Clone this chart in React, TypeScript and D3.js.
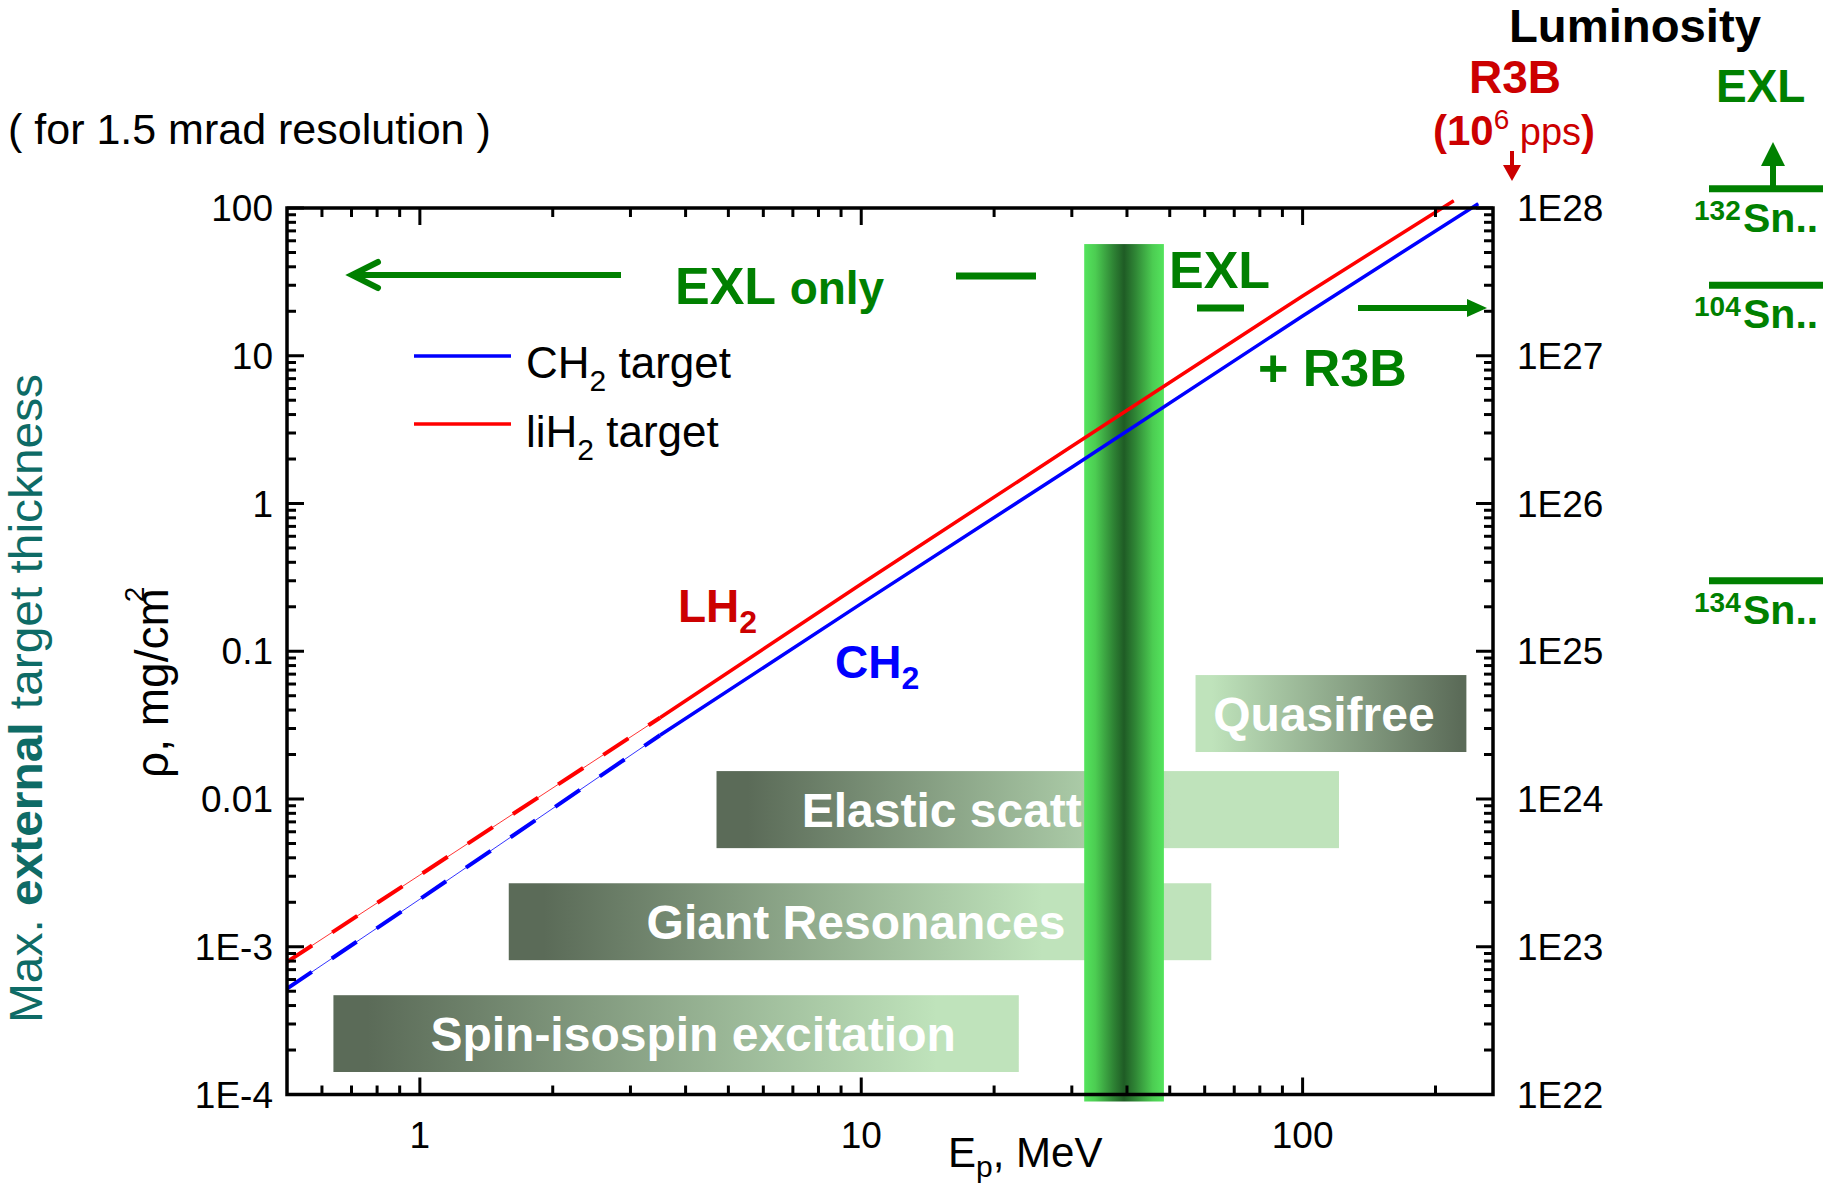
import React from 'react';
import * as d3 from 'd3';

// ---- canvas & frame ----
const W = 1823;
const H = 1184;
const frame = { left: 287, right: 1493, top: 208, bottom: 1094.5 };
const FONT = 'Liberation Sans, Arial, Helvetica, sans-serif';

// ---- axes ----
const energyDomain = [0.5, 270];
const thicknessDomain = [1e-4, 100];
const luminosityDomain = [1e22, 1e28];

const xMajorTicks = [1, 10, 100];
const xMajorLabels = ['1', '10', '100'];
const yMajorTicks = [1e-4, 1e-3, 0.01, 0.1, 1, 10, 100];
const yMajorLabels = ['1E-4', '1E-3', '0.01', '0.1', '1', '10', '100'];
const lumMajorTicks = [1e22, 1e23, 1e24, 1e25, 1e26, 1e27, 1e28];
const lumMajorLabels = ['1E22', '1E23', '1E24', '1E25', '1E26', '1E27', '1E28'];

// ---- maximum target thickness vs. proton energy ----
const ch2Energy = [0.5, 1, 3.5, 10, 30, 100, 250];
const ch2Thickness = [5.2e-4, 2.1e-3, 0.027, 0.21, 1.76, 18.6, 107];
const lh2Energy = [0.5, 1, 3.5, 10, 30, 100, 220];
const lh2Thickness = [7.9e-4, 3.06e-3, 0.0355, 0.285, 2.44, 25.4, 112];
const dashedBelowEnergy = 3.5;

// ---- reaction regions (energy range, thickness band) ----
const reactionNames = ['Spin-isospin excitation', 'Giant Resonances', 'Elastic scatt', 'Quasifree'];
const reactionEmin = [0.637, 1.59, 4.7, 57.2];
const reactionEmax = [22.75, 62.1, 120.9, 235];
const reactionTop = [4.7e-4, 2.69e-3, 0.01545, 0.069];
const reactionBottom = [1.42e-4, 8.11e-4, 4.65e-3, 0.0208];

// ---- EXL beam energy window ----
const beamWindow = [32, 48.5];
const beamWindowTop = 57;

// ---- luminosity levels for tin isotopes ----
const snMass = ['132', '104', '134'];
const snLuminosity = [1.35e28, 3e27, 3e25];

// styling
const DARK = '#5b6b58';
const LIGHT = '#bfe3bb';
const GREEN = '#008000';
const RED_TXT = '#cc0000';
const TEAL = '#0e6b66';
// gradient fade per reaction bar: [darkStop, lightStop, darkOnLeft]
const reactionFade: [number, number, boolean][] = [
  [0.05, 0.88, true],
  [0.05, 0.76, true],
  [0.05, 0.73, true],
  [0.98, 0.06, false],
];
const reactionLabelShift = [17, -4, -86, -7];

function minorTicks(lo: number, hi: number, majors: number[]) {
  const out: number[] = [];
  for (let e = Math.floor(Math.log10(lo)); e <= Math.ceil(Math.log10(hi)); e++) {
    for (let m = 1; m <= 9; m++) {
      const v = m * Math.pow(10, e);
      if (v > lo * 1.0001 && v < hi * 0.9999 && !majors.some((t) => Math.abs(t - v) / v < 1e-6)) out.push(v);
    }
  }
  return out;
}

export default function App() {
  const x = d3.scaleLog().domain(energyDomain).range([frame.left, frame.right]);
  const y = d3.scaleLog().domain(thicknessDomain).range([frame.bottom, frame.top]);
  const yLum = d3.scaleLog().domain(luminosityDomain).range([frame.bottom, frame.top]);

  const line = d3
    .line<[number, number]>()
    .x((d) => x(d[0]))
    .y((d) => y(d[1]));

  const series = [
    { e: ch2Energy, t: ch2Thickness, color: '#0000ff' },
    { e: lh2Energy, t: lh2Thickness, color: '#ff0000' },
  ].map((s) => {
    const pts = s.e.map((e, i) => [e, s.t[i]] as [number, number]);
    return {
      color: s.color,
      all: line(pts) as string,
      dashed: line(pts.filter((p) => p[0] <= dashedBelowEnergy)) as string,
      solid: line(pts.filter((p) => p[0] >= dashedBelowEnergy)) as string,
    };
  });

  const xMinor = minorTicks(energyDomain[0], energyDomain[1], xMajorTicks);
  const yMinor = minorTicks(thicknessDomain[0], thicknessDomain[1], yMajorTicks);
  const MAJ = 17;
  const MIN = 9;

  const bandX0 = x(beamWindow[0]);
  const bandX1 = x(beamWindow[1]);

  return (
    <svg
      width={W}
      height={H}
      viewBox={`0 0 ${W} ${H}`}
      style={{ position: 'absolute', left: 0, top: 0, background: '#fff' }}
      fontFamily={FONT}
    >
      <defs>
        {reactionNames.map((_, i) => {
          const [ds, ls, darkLeft] = reactionFade[i];
          return (
            <linearGradient key={i} id={`rg${i}`} x1="0" x2="1" y1="0" y2="0">
              {darkLeft ? (
                <>
                  <stop offset={ds} stopColor={DARK} />
                  <stop offset={ls} stopColor={LIGHT} />
                </>
              ) : (
                <>
                  <stop offset={ls} stopColor={LIGHT} />
                  <stop offset={ds} stopColor={DARK} />
                </>
              )}
            </linearGradient>
          );
        })}
        <linearGradient id="beam" x1="0" x2="1" y1="0" y2="0">
          <stop offset="0" stopColor="#54e45d" />
          <stop offset="0.14" stopColor="#4ccd52" />
          <stop offset="0.36" stopColor="#2f8535" />
          <stop offset="0.5" stopColor="#1f5c25" />
          <stop offset="0.64" stopColor="#2f8535" />
          <stop offset="0.86" stopColor="#4ccd52" />
          <stop offset="1" stopColor="#54e45d" />
        </linearGradient>
      </defs>

      {/* header notes */}
      <text x={8} y={144} fontSize={43} fill="#000">( for 1.5 mrad resolution )</text>
      <text x={1509} y={42} fontSize={46} fontWeight="bold" fill="#000" textLength={252} lengthAdjust="spacingAndGlyphs">
        Luminosity
      </text>
      <text x={1515} y={93} fontSize={46} fontWeight="bold" fill={RED_TXT} textAnchor="middle">R3B</text>
      <text x={1433} y={145} fontSize={42} fontWeight="bold" fill={RED_TXT}>
        (10
        <tspan dy={-16} fontSize={28} fontWeight="normal">6</tspan>
        <tspan dy={16} fontSize={38} fontWeight="normal"> pps</tspan>)
      </text>
      <line x1={1512} x2={1512} y1={151} y2={168} stroke={RED_TXT} strokeWidth={4} />
      <polygon points="1503,165 1521,165 1512,181" fill={RED_TXT} />

      {/* EXL luminosity scale */}
      <text x={1716} y={102} fontSize={46} fontWeight="bold" fill={GREEN}>EXL</text>
      {snMass.map((m, i) => {
        const yy = yLum(snLuminosity[i]);
        return (
          <g key={m}>
            <line x1={1709} x2={W} y1={yy} y2={yy} stroke={GREEN} strokeWidth={7} />
            <text x={1694} y={yy + 31} fontSize={28} fontWeight="bold" fill={GREEN}>
              {m}
              <tspan x={1743} dy={12} fontSize={41}>Sn..</tspan>
            </text>
          </g>
        );
      })}
      <line x1={1773} x2={1773} y1={yLum(snLuminosity[0])} y2={160} stroke={GREEN} strokeWidth={6} />
      <polygon points="1761,166 1785,166 1773,142" fill={GREEN} />

      {/* reaction regions */}
      {reactionNames.map((name, i) => {
        const x0 = x(reactionEmin[i]);
        const x1 = x(reactionEmax[i]);
        const y0 = y(reactionTop[i]);
        const y1 = y(reactionBottom[i]);
        return (
          <g key={name}>
            <rect x={x0} y={y0} width={x1 - x0} height={y1 - y0} fill={`url(#rg${i})`} />
            <text
              x={(x0 + x1) / 2 + reactionLabelShift[i]}
              y={(y0 + y1) / 2 + 17}
              fontSize={48}
              fontWeight="bold"
              fill="#fff"
              textAnchor="middle"
            >
              {name}
            </text>
          </g>
        );
      })}

      {/* EXL beam energy window */}
      <rect x={bandX0} y={y(beamWindowTop)} width={bandX1 - bandX0} height={frame.bottom + 7 - y(beamWindowTop)} fill="url(#beam)" />

      {/* annotations */}
      <line x1={621} x2={353} y1={275} y2={275} stroke={GREEN} strokeWidth={6} />
      <polyline points="378,262 352,275 378,288" fill="none" stroke={GREEN} strokeWidth={6} strokeLinecap="round" />
      <text x={675} y={304} fontSize={52} fontWeight="bold" fill={GREEN}>
        EXL <tspan fontSize={46}>only</tspan>
      </text>
      <line x1={956} x2={1036} y1={276} y2={276} stroke={GREEN} strokeWidth={7} />
      <text x={1169} y={288} fontSize={52} fontWeight="bold" fill={GREEN}>EXL</text>
      <line x1={1197} x2={1244} y1={308} y2={308} stroke={GREEN} strokeWidth={7} />
      <line x1={1358} x2={1470} y1={308} y2={308} stroke={GREEN} strokeWidth={6} />
      <polygon points="1467,299 1487,308 1467,317" fill={GREEN} />
      <text x={1258} y={386} fontSize={52} fontWeight="bold" fill={GREEN}>+ R3B</text>

      {/* legend */}
      <line x1={414} x2={511} y1={356} y2={356} stroke="#0000ff" strokeWidth={3.5} />
      <text x={526} y={378} fontSize={44} fill="#000">
        CH<tspan dy={13} fontSize={30}>2</tspan>
        <tspan dy={-13}> target</tspan>
      </text>
      <line x1={414} x2={511} y1={424} y2={424} stroke="#ff0000" strokeWidth={3.5} />
      <text x={526} y={447} fontSize={44} fill="#000">
        liH<tspan dy={13} fontSize={30}>2</tspan>
        <tspan dy={-13}> target</tspan>
      </text>

      {/* thickness curves */}
      {series.map((s, i) => (
        <g key={i} fill="none" stroke={s.color}>
          <path d={s.all} strokeWidth={0.8} />
          <path d={s.dashed} strokeWidth={4} strokeDasharray="30 24" />
          <path d={s.solid} strokeWidth={3.5} />
        </g>
      ))}
      <text x={678} y={622} fontSize={46} fontWeight="bold" fill={RED_TXT}>
        LH<tspan dy={11} fontSize={32}>2</tspan>
      </text>
      <text x={835} y={678} fontSize={46} fontWeight="bold" fill="#0000ff">
        CH<tspan dy={11} fontSize={32}>2</tspan>
      </text>

      {/* frame */}
      <rect
        x={frame.left}
        y={frame.top}
        width={frame.right - frame.left}
        height={frame.bottom - frame.top}
        fill="none"
        stroke="#000"
        strokeWidth={3.5}
      />
      <g stroke="#000" strokeWidth={3}>
        {xMajorTicks.concat(xMinor).map((v) => {
          const len = xMajorTicks.includes(v) ? MAJ : MIN;
          return (
            <g key={`xt${v}`}>
              <line x1={x(v)} x2={x(v)} y1={frame.bottom} y2={frame.bottom - len} />
              <line x1={x(v)} x2={x(v)} y1={frame.top} y2={frame.top + len} />
            </g>
          );
        })}
        {yMajorTicks.concat(yMinor).map((v) => {
          const len = yMajorTicks.includes(v) ? MAJ : MIN;
          return (
            <g key={`yt${v}`}>
              <line x1={frame.left} x2={frame.left + len} y1={y(v)} y2={y(v)} />
              <line x1={frame.right} x2={frame.right - len} y1={y(v)} y2={y(v)} />
            </g>
          );
        })}
      </g>

      {/* tick labels */}
      {xMajorTicks.map((v, i) => (
        <text key={`xl${v}`} x={x(v)} y={1148} fontSize={37} textAnchor="middle" fill="#000">
          {xMajorLabels[i]}
        </text>
      ))}
      {yMajorTicks.map((v, i) => (
        <text key={`yl${v}`} x={273} y={y(v) + 13} fontSize={37} textAnchor="end" fill="#000">
          {yMajorLabels[i]}
        </text>
      ))}
      {lumMajorTicks.map((v, i) => (
        <text key={`ll${v}`} x={1517} y={yLum(v) + 13} fontSize={37} fill="#000">
          {lumMajorLabels[i]}
        </text>
      ))}

      {/* axis titles */}
      <text x={948} y={1167} fontSize={42} fill="#000">
        E<tspan dy={10} fontSize={30}>p</tspan>
        <tspan dy={-10}>, MeV</tspan>
      </text>
      <text transform="translate(168,778) rotate(-90)" fontSize={46} fill="#000">
        ρ, mg/cm
        <tspan dx={-14} dy={-24} fontSize={28}>2</tspan>
      </text>
      <text
        transform="translate(42,1023) rotate(-90)"
        fontSize={46}
        fill={TEAL}
        textLength={649}
        lengthAdjust="spacingAndGlyphs"
      >
        Max. <tspan fontWeight="bold">external</tspan> target thickness
      </text>
    </svg>
  );
}
